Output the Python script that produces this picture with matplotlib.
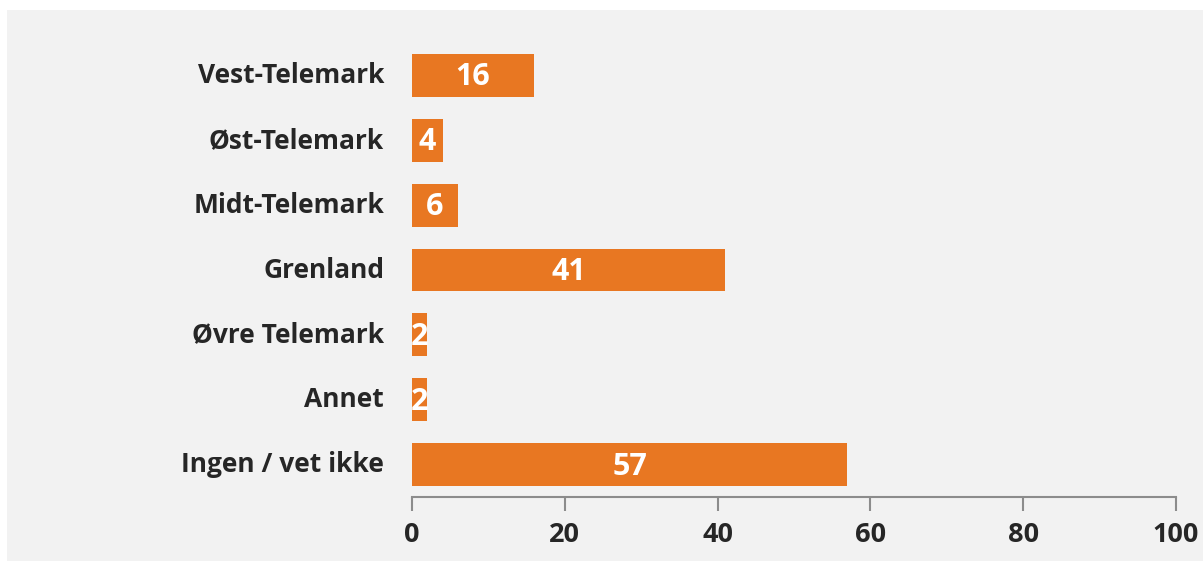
import matplotlib
matplotlib.use('Agg')
import matplotlib.pyplot as plt
from matplotlib.patches import Rectangle

regions = ['Vest-Telemark', 'Øst-Telemark', 'Midt-Telemark', 'Grenland',
           'Øvre Telemark', 'Annet', 'Ingen / vet ikke']
counts = [16, 4, 6, 41, 2, 2, 57]
xticks = [0, 20, 40, 60, 80, 100]

bar_color = '#E87722'
bg = '#F2F2F2'

plt.rcParams['font.family'] = ['Open Sans', 'DejaVu Sans']

fig = plt.figure(figsize=(12.03, 5.61), dpi=100, facecolor='white')
# grey panel behind the chart, leaving a thin white margin top and left
fig.patches.append(Rectangle((7 / 1203, 0), 1, 1 - 10 / 561,
                             transform=fig.transFigure, facecolor=bg,
                             edgecolor='none', zorder=-1))

ax = fig.add_axes([412 / 1203, 1 - 497 / 561, 764 / 1203, 454 / 561])
ax.set_facecolor('none')

ypos = list(range(len(regions)))
ax.barh(ypos, counts, height=0.66, color=bar_color)
for y, v in zip(ypos, counts):
    ax.text(v / 2, y + 0.03, str(v), ha='center', va='center', color='white',
            fontsize=22, fontweight='bold')

ax.set_xlim(0, 100)
ax.set_ylim(len(regions) - 0.5, -0.5)
ax.set_yticks(ypos)
ax.set_yticklabels(regions, fontsize=19, fontweight='bold', color='#262626',
                   va='center')
ax.tick_params(axis='y', length=0, pad=20)
ax.set_xticks(xticks)
ax.set_xticklabels([str(t) for t in xticks], fontsize=19.5, fontweight='bold',
                   color='#262626')
ax.tick_params(axis='x', length=10, width=1.5, color='#8C8C8C', pad=8)

for s in ['top', 'right', 'left']:
    ax.spines[s].set_visible(False)
ax.spines['bottom'].set_color('#8C8C8C')
ax.spines['bottom'].set_linewidth(1.5)

fig.savefig('out.png', dpi=100, facecolor='white')
